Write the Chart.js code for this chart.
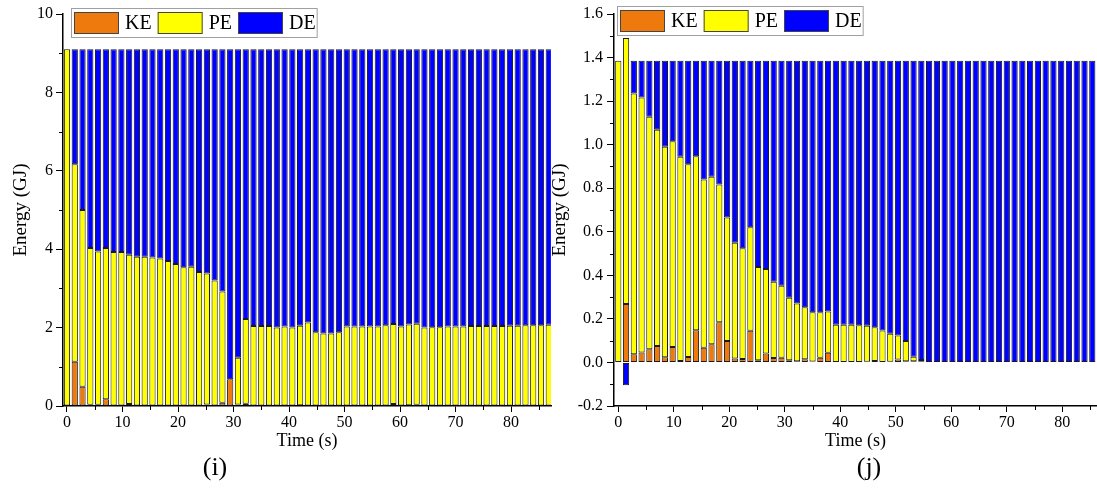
<!DOCTYPE html>
<html>
<head>
<meta charset="utf-8">
<script src="https://cdn.jsdelivr.net/npm/chart.js@4.4.0/dist/chart.umd.min.js"></script>
<style>
  body { margin: 0; background: #fff; }
  #wrap { position: relative; width: 1097px; height: 488px; overflow: hidden; }
  canvas { position: absolute; top: 0; }
  .tag { position: absolute; top: 467px; font: 26px "Liberation Serif", serif; color: #000; transform: translate(-50%, -50%); }
</style>
</head>
<body>
<div id="wrap">
  <canvas id="chartI" width="560" height="488" style="left:0"></canvas>
  <canvas id="chartJ" width="552" height="488" style="left:545px"></canvas>
  <div class="tag" style="left:215px">(i)</div>
  <div class="tag" style="left:869px">(j)</div>
</div>
<script>
// time (s) of each bar
const timeI = [0, 1.4, 2.8, 4.2, 5.6, 7, 8.4, 9.8, 11.2, 12.6, 14, 15.4, 16.8, 18.2, 19.6, 21, 22.4, 23.8, 25.2, 26.6,
  28, 29.4, 30.8, 32.2, 33.6, 35, 36.4, 37.8, 39.2, 40.6, 42, 43.4, 44.8, 46.2, 47.6, 49, 50.4, 51.8, 53.2, 54.6,
  56, 57.4, 58.8, 60.2, 61.6, 63, 64.4, 65.8, 67.2, 68.6, 70, 71.4, 72.8, 74.2, 75.6, 77, 78.4, 79.8, 81.2, 82.6,
  84, 85.4, 86.8];
const timeJ = timeI.slice(0, 62);

// panel (i), GJ
const keI = [0, 1.13, 0.49, 0.03, 0.03, 0.17, 0, 0.01, 0.05, 0, 0, 0, 0, 0, 0, 0, 0, 0, 0.04, 0,
  0.08, 0.68, 0.04, 0.06, 0, 0, 0, 0, 0, 0, 0.02, 0, 0, 0, 0, 0, 0, 0, 0, 0,
  0, 0, 0.05, 0, 0.02, 0.03, 0, 0, 0, 0, 0, 0, 0, 0, 0, 0, 0, 0, 0, 0, 0, 0, 0];
const peI = [9.1, 5.04, 4.51, 4.0, 3.91, 3.86, 3.93, 3.92, 3.81, 3.81, 3.81, 3.79, 3.76, 3.70, 3.62, 3.54, 3.55, 3.42, 3.34, 3.20,
  2.84, 0, 1.19, 2.16, 2.04, 2.04, 2.04, 2.00, 2.03, 2.00, 2.03, 2.13, 1.88, 1.85, 1.85, 1.88, 2.03, 2.03, 2.03, 2.03,
  2.03, 2.06, 2.04, 2.03, 2.06, 2.07, 2.00, 2.01, 2.01, 2.03, 2.03, 2.03, 2.04, 2.04, 2.04, 2.04, 2.04, 2.05, 2.05, 2.06,
  2.06, 2.06, 2.07];
const deI = [0, 2.93, 4.10, 5.07, 5.16, 5.07, 5.17, 5.17, 5.24, 5.29, 5.29, 5.31, 5.34, 5.40, 5.48, 5.56, 5.55, 5.68, 5.72, 5.90,
  6.18, 8.42, 7.87, 6.88, 7.06, 7.06, 7.06, 7.10, 7.07, 7.10, 7.05, 6.97, 7.22, 7.25, 7.25, 7.22, 7.07, 7.07, 7.07, 7.07,
  7.07, 7.04, 7.01, 7.07, 7.02, 7.00, 7.10, 7.09, 7.09, 7.07, 7.07, 7.07, 7.06, 7.06, 7.06, 7.06, 7.06, 7.05, 7.05, 7.04,
  7.04, 7.04, 7.03];

// panel (j), GJ
const keJ = [0, 0.268, 0.038, 0.046, 0.061, 0.075, 0.024, 0.071, 0.007, 0.025, 0.148, 0.067, 0.084, 0.184, 0.098, 0.018, 0.016, 0.145, 0.01, 0.041,
  0.02, 0.021, 0.01, 0.005, 0.015, 0.004, 0.021, 0.044, 0, 0, 0, 0, 0.003, 0.007, 0, 0.003, 0.013, 0.005, 0.005, 0.005,
  0, 0, 0, 0, 0, 0, 0, 0, 0, 0, 0, 0, 0, 0, 0, 0, 0, 0, 0, 0, 0, 0];
const peJ = [1.385, 1.222, 1.197, 1.171, 1.067, 0.994, 0.967, 0.945, 0.938, 0.885, 0.799, 0.773, 0.769, 0.633, 0.567, 0.532, 0.508, 0.476, 0.428, 0.388,
  0.351, 0.331, 0.287, 0.266, 0.239, 0.226, 0.209, 0.19, 0.173, 0.173, 0.173, 0.171, 0.165, 0.155, 0.147, 0.129, 0.111, 0.094, 0.021, 0.006,
  0, 0, 0, 0, 0, 0, 0, 0, 0, 0, 0, 0, 0, 0, 0, 0, 0, 0, 0, 0, 0, 0];
const deJ = [0, -0.105, 0.15, 0.168, 0.257, 0.316, 0.394, 0.369, 0.44, 0.475, 0.438, 0.545, 0.532, 0.568, 0.72, 0.835, 0.861, 0.764, 0.947, 0.956,
  1.014, 1.033, 1.088, 1.114, 1.131, 1.155, 1.155, 1.151, 1.212, 1.212, 1.212, 1.214, 1.217, 1.223, 1.238, 1.253, 1.261, 1.286, 1.359, 1.374,
  1.385, 1.385, 1.385, 1.385, 1.385, 1.385, 1.385, 1.385, 1.385, 1.385, 1.385, 1.385, 1.385, 1.385, 1.385, 1.385, 1.385, 1.385, 1.385, 1.385,
  1.385, 1.385];

// tick positions
const xTicks = [0, 5, 10, 15, 20, 25, 30, 35, 40, 45, 50, 55, 60, 65, 70, 75, 80, 85];
const yTicksI = [0, 1, 2, 3, 4, 5, 6, 7, 8, 9, 10];
const yTicksJ = [-0.2, -0.1, 0, 0.1, 0.2, 0.3, 0.4, 0.5, 0.6, 0.7, 0.8, 0.9, 1.0, 1.1, 1.2, 1.3, 1.4, 1.5, 1.6];

const seriesNames = ['KE', 'PE', 'DE'];
const seriesColors = ['#EE7A0E', '#FFFF00', '#0000FF'];

Chart.defaults.font.family = '"Liberation Serif", "Times New Roman", serif';
Chart.defaults.color = '#000';

// legend box drawn inside the plot, Origin style
const boxLegend = {
  id: 'boxLegend',
  afterDraw(chart, args, opts) {
    const c = chart.ctx;
    c.save();
    c.font = '20px "Liberation Serif"';
    const sets = chart.data.datasets;
    let w = 3;
    sets.forEach(d => { w += 45 + 6 + c.measureText(d.label).width + 6; });
    w -= 5;
    c.fillStyle = '#fff';
    c.fillRect(opts.x, opts.y, w, 29);
    c.strokeStyle = '#a0a0a0';
    c.lineWidth = 1;
    c.strokeRect(opts.x + 0.5, opts.y + 0.5, w, 29);
    let x = opts.x + 3;
    sets.forEach(d => {
      c.fillStyle = d.backgroundColor;
      c.fillRect(x, opts.y + 4, 45, 22);
      c.strokeStyle = '#444';
      c.strokeRect(x + 0.5, opts.y + 4.5, 44, 21);
      x += 51;
      c.fillStyle = '#000';
      c.textBaseline = 'middle';
      c.fillText(d.label, x, opts.y + 16);
      x += c.measureText(d.label).width + 6;
    });
    c.restore();
  }
};

// short minor ticks (unlabelled ones)
const minorTicks = {
  id: 'minorTicks',
  afterDraw(chart) {
    const c = chart.ctx;
    const sx = chart.scales.x, sy = chart.scales.y;
    c.save();
    c.strokeStyle = '#000';
    c.lineWidth = 1;
    sx.ticks.forEach(t => {
      if (t.label !== '') return;
      const px = Math.round(sx.getPixelForValue(t.value)) + 0.5;
      c.beginPath(); c.moveTo(px, sx.top); c.lineTo(px, sx.top + 4); c.stroke();
    });
    sy.ticks.forEach(t => {
      if (t.label !== '') return;
      const py = Math.round(sy.getPixelForValue(t.value)) + 0.5;
      c.beginPath(); c.moveTo(sy.right, py); c.lineTo(sy.right - 4, py); c.stroke();
    });
    c.restore();
  }
};

function pts(times, vals) {
  return times.map((t, i) => ({ x: t, y: vals[i] }));
}

const majorColor = c => (c.tick && c.tick.label !== '') ? '#000' : 'rgba(0,0,0,0)';

function buildChart(id, times, series, o) {
  const ctx = document.getElementById(id).getContext('2d');
  return new Chart(ctx, {
    type: 'bar',
    data: {
      datasets: series.map((vals, k) => ({
        label: seriesNames[k],
        data: pts(times, vals),
        backgroundColor: seriesColors[k],
        borderColor: '#1a1a1a',
        borderWidth: 1,
        borderSkipped: false,
        barPercentage: 0.8,
        categoryPercentage: 1
      }))
    },
    options: {
      responsive: false,
      animation: false,
      layout: { padding: { top: 14, right: o.padRight, left: 0, bottom: 0 } },
      plugins: {
        legend: { display: false },
        tooltip: { enabled: false },
        boxLegend: { x: o.legX, y: o.legY }
      },
      scales: {
        x: {
          type: 'linear',
          stacked: true,
          offset: false,
          min: o.xMin,
          max: o.xMax,
          afterBuildTicks: s => { s.ticks = xTicks.map(v => ({ value: v })); },
          afterFit: s => { s.height = 82; },
          ticks: {
            autoSkip: false, maxRotation: 0, padding: 1,
            font: { size: 16 },
            callback: v => (v % 10 === 0 ? String(v) : '')
          },
          grid: { drawOnChartArea: false, offset: false, tickLength: 6, color: majorColor },
          border: { color: '#000', width: 1.5 },
          title: { display: true, text: 'Time (s)', font: { size: 18 }, padding: { top: 0, bottom: 36 } }
        },
        y: {
          stacked: true,
          min: o.yMin,
          max: o.yMax,
          afterBuildTicks: s => { s.ticks = o.yTicks.map(v => ({ value: v })); },
          afterFit: s => { s.width = o.yWidth; },
          ticks: { autoSkip: false, padding: o.yPad, font: { size: 16 }, callback: o.yLabel },
          grid: { drawOnChartArea: false, tickLength: 7, color: majorColor },
          border: { color: '#000', width: 1.5 },
          title: { display: true, text: 'Energy (GJ)', font: { size: 19 }, padding: { top: o.yTitlePad, bottom: 0 } }
        }
      }
    },
    plugins: [boxLegend, minorTicks]
  });
}

buildChart('chartI', timeI, [keI, peI, deI], {
  xMin: -0.72, xMax: 87.2, yMin: 0, yMax: 10, yTicks: yTicksI,
  yWidth: 63, yPad: 3, yTitlePad: 10, padRight: 9, legX: 71, legY: 8,
  yLabel: v => (v % 2 === 0 ? String(v) : '')
});

buildChart('chartJ', timeJ, [keJ, peJ, deJ], {
  xMin: -0.77, xMax: 86.25, yMin: -0.2, yMax: 1.6, yTicks: yTicksJ,
  yWidth: 69, yPad: 4, yTitlePad: 4, padRight: 0, legX: 72, legY: 6,
  yLabel: v => (Math.round(v * 10) % 2 === 0 ? v.toFixed(1) : '')
});
</script>
</body>
</html>
